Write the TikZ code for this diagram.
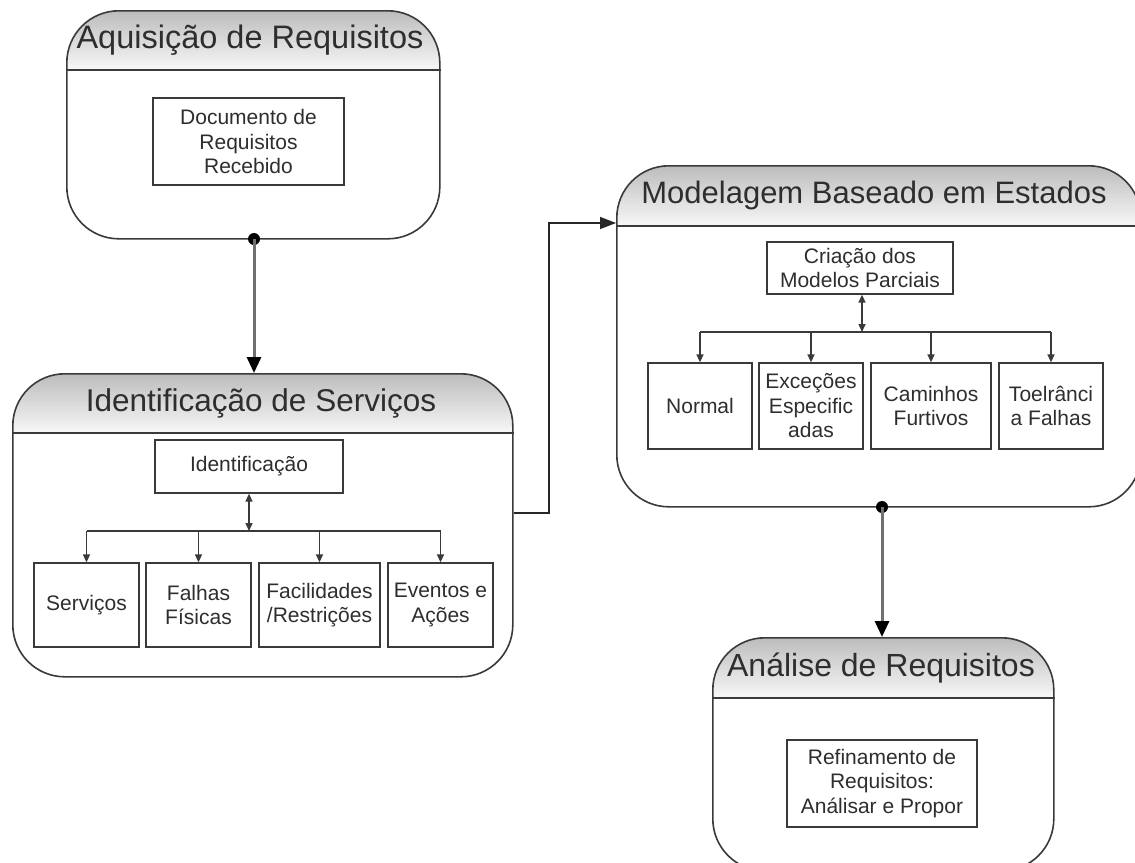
\documentclass[tikz,border=0pt]{standalone}
\usepackage{fontspec}
\setmainfont{Liberation Sans}
\usetikzlibrary{arrows.meta,calc}
\definecolor{linec}{HTML}{3A3A3A}
\definecolor{txtc}{HTML}{2E2E2E}
\definecolor{hdtop}{HTML}{BDBDBD}
\definecolor{hdbot}{HTML}{F7F7F7}
\definecolor{arrc}{HTML}{707070}
\begin{document}
\begin{tikzpicture}[x=1pt,y=-1pt,
  container/.style={draw=linec, line width=1.6pt, rounded corners=52pt, fill=white,
    inner sep=0pt, anchor=north west,
    path picture={\foreach \i in {0,...,29}{%
      \pgfmathtruncatemacro\pc{100-\i*100/29}%
      \fill[sharp corners, hdtop!\pc!hdbot]
        ([yshift=-\i*#1/30]path picture bounding box.north west) rectangle
        ([yshift=-(\i+1)*#1/30-0.6pt]path picture bounding box.north east);}}},
  hdrline/.style={draw=linec, line width=1.6pt},
  titlef/.style={text=txtc, font=\fontsize{#1}{36}\selectfont, inner sep=0pt},
  inbox/.style={draw=linec, line width=1.3pt, fill=white, text=txtc, align=center,
    font=\fontsize{21}{24.5}\selectfont, inner sep=2pt},
  dotn/.style={circle, fill=black, inner sep=0pt, minimum size=12pt},
  mainarrow/.style={draw=arrc, line width=3pt, -{Triangle[length=16pt,width=14pt,black]}},
  conn/.style={draw=black!85, line width=1.5pt, -{Triangle[length=16pt,width=12pt]}},
  bus/.style={draw=linec, line width=1.5pt},
  smarrow/.style={draw=linec, line width=1.5pt, -{Triangle[length=8pt,width=7pt]}},
  dblarrow/.style={draw=linec, line width=1.5pt, {Triangle[length=8pt,width=7pt]}-{Triangle[length=8pt,width=7pt]}}
]
\useasboundingbox[fill=white] (0,0) rectangle (1135,862);

% ---------- Containers ----------
\node[container=60pt, minimum width=373pt, minimum height=228pt] (A) at (66,10) {};
\node[container=60pt, minimum width=500pt, minimum height=303pt] (B) at (12,373) {};
\node[container=61pt, minimum width=524pt, minimum height=341pt] (C) at (616,165) {};
\node[container=61pt, minimum width=341pt, minimum height=233pt] (D) at (712,637) {};

\draw[hdrline] ($(A.north west)+(0,60)$) -- ($(A.north east)+(0,60)$);
\draw[hdrline] ($(B.north west)+(0,60)$) -- ($(B.north east)+(0,60)$);
\draw[hdrline] ($(C.north west)+(0,61)$) -- ($(C.north east)+(0,61)$);
\draw[hdrline] ($(D.north west)+(0,61)$) -- ($(D.north east)+(0,61)$);

% ---------- Titles ----------
\node[titlef=32.5] (At) at (250,40) {Aquisição de Requisitos};
\node[titlef=31.5] (Bt) at (261,403) {Identificação de Serviços};
\node[titlef=31] (Ct) at (874,195) {Modelagem Baseado em Estados};
\node[titlef=32] (Dt) at (881,668) {Análise de Requisitos};

% ---------- Inner boxes ----------
\node[inbox, minimum width=191pt, minimum height=87pt] (Ai) at (248.5,141.5) {Documento de\\Requisitos\\Recebido};

\node[inbox, minimum width=188pt, minimum height=53pt] (Bi) at (249,466.5) {Identificação};
\node[inbox, minimum width=105pt, minimum height=84pt] (B1) at (86.5,605) {Serviços};
\node[inbox, minimum width=105pt, minimum height=84pt] (B2) at (198.5,605) {Falhas\\Físicas};
\node[inbox, minimum width=121pt, minimum height=84pt] (B3) at (319.5,605) {Facilidades\\/Restrições};
\node[inbox, minimum width=105pt, minimum height=84pt] (B4) at (440.5,605) {Eventos e\\Ações};

\node[inbox, minimum width=186pt, minimum height=52pt] (Ci) at (860,268) {Criação dos\\Modelos Parciais};
\node[inbox, minimum width=104pt, minimum height=86pt] (C1) at (700,406) {Normal};
\node[inbox, minimum width=104pt, minimum height=86pt] (C2) at (811,406) {Exceções\\Especific\\adas};
\node[inbox, minimum width=120pt, minimum height=86pt] (C3) at (931,406) {Caminhos\\Furtivos};
\node[inbox, minimum width=104pt, minimum height=86pt] (C4) at (1051,406) {Toelrânci\\a Falhas};

\node[inbox, minimum width=190pt, minimum height=87pt] (Di) at (882,783.5) {Refinamento de\\Requisitos:\\Análisar e Propor};

% ---------- Bus inside B ----------
\coordinate (Bbus) at (249,531);
\draw[dblarrow] (Bi.south) -- (Bi.south |- Bbus);
\draw[bus] (B1.north |- Bbus) -- (B4.north |- Bbus);
\foreach \n in {B1,B2,B3,B4} \draw[smarrow] (\n.north |- Bbus) -- (\n.north);

% ---------- Bus inside C ----------
\coordinate (Cbus) at (862,332);
\draw[dblarrow] (Ci.south -| Cbus) -- (Cbus);
\draw[bus] (C1.north |- Cbus) -- (C4.north |- Cbus);
\foreach \n in {C1,C2,C3,C4} \draw[smarrow] (\n.north |- Cbus) -- (\n.north);

% ---------- Connectors between containers ----------
\node[dotn] (Ad) at (254,239) {};
\draw[mainarrow] (Ad.center) -- (Ad.center |- B.north);

\coordinate (bcA) at (549,513);
\coordinate (bcB) at (549,223);
\draw[conn] (bcA -| B.east) -- (bcA) -- (bcB) -- (bcB -| C.west);

\node[dotn] (Cd) at (882,507) {};
\draw[mainarrow] (Cd.center) -- (Cd.center |- D.north);
\end{tikzpicture}
\end{document}
